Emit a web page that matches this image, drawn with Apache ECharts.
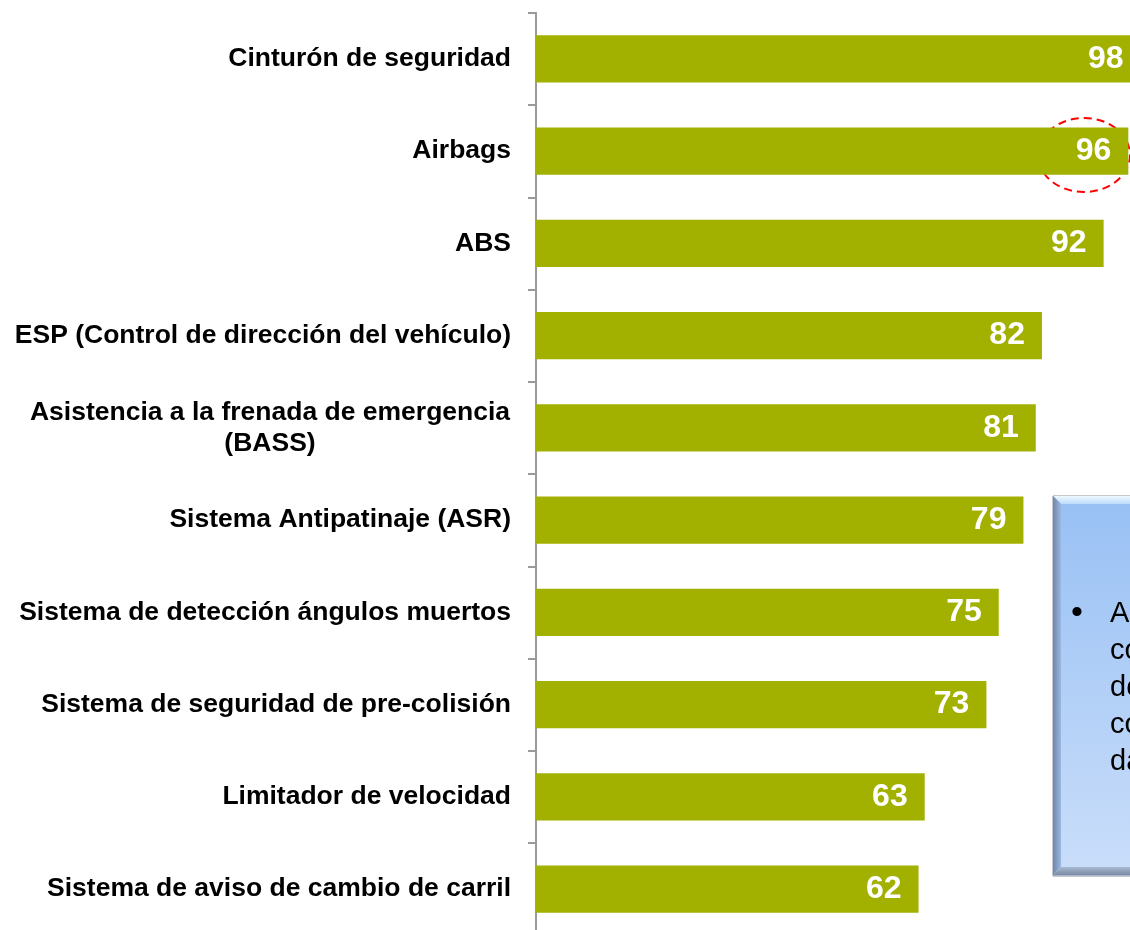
<!DOCTYPE html>
<html>
<head>
<meta charset="utf-8">
<script src="https://cdn.jsdelivr.net/npm/echarts@6/dist/echarts.min.js"></script>
<style>
  html, body { margin: 0; padding: 0; background: #fff; }
  #chart { width: 1130px; height: 930px; }
</style>
</head>
<body>
<div id="chart"></div>
<script>
// datos
var categorias = [
    'Cinturón de seguridad',
    'Airbags',
    'ABS',
    'ESP (Control de dirección del vehículo)',
    'Asistencia a la frenada de emergencia\n(BASS)',
    'Sistema Antipatinaje (ASR)',
    'Sistema de detección ángulos muertos',
    'Sistema de seguridad de pre-colisión',
    'Limitador de velocidad',
    'Sistema de aviso de cambio de carril'
];
var valores = [98, 96, 92, 82, 81, 79, 75, 73, 63, 62];
var textoCaja = ['A', 'co', 'de', 'co', 'da'];

var fuente = 'Arial';
var myChart = echarts.init(document.getElementById('chart'));

myChart.setOption({
    animation: false,
    grid: {
        left: 536,
        top: 12.75,
        width: 617,
        height: 922.5,
        containLabel: false,
        outerBoundsMode: 'none'
    },
    xAxis: {
        type: 'value',
        min: 0,
        max: 100,
        show: false
    },
    yAxis: {
        type: 'category',
        inverse: true,
        data: categorias,
        axisLine: {
            show: true,
            lineStyle: { color: '#9a9a9a', width: 2 }
        },
        axisTick: {
            show: true,
            length: 8,
            lineStyle: { color: '#9a9a9a', width: 2 }
        },
        axisLabel: {
            margin: 25,
            color: '#000',
            fontFamily: fuente,
            fontWeight: 'bold',
            fontSize: 26.5,
            formatter: function (v) {
                if (v.indexOf('\n') >= 0) {
                    return v.split('\n').map(function (s) { return '{c|' + s + '}'; }).join('\n');
                }
                return v;
            },
            rich: {
                c: {
                    width: 482,
                    align: 'center',
                    lineHeight: 31,
                    color: '#000',
                    fontFamily: fuente,
                    fontWeight: 'bold',
                    fontSize: 26.5
                }
            }
        }
    },
    series: [{
        type: 'bar',
        data: valores,
        barCategoryGap: '49%',
        itemStyle: { color: '#a2b000' },
        label: {
            show: true,
            position: 'insideRight',
            distance: 17,
            color: '#fff',
            fontFamily: fuente,
            fontWeight: 'bold',
            fontSize: 32
        }
    }],
    graphic: [
        // caja azul
        {
            type: 'rect',
            shape: { x: 1053, y: 496, width: 120, height: 380 },
            style: {
                fill: new echarts.graphic.LinearGradient(0, 0, 0, 1, [
                    { offset: 0, color: '#98c0f4' },
                    { offset: 1, color: '#cadefa' }
                ]),
                stroke: '#8a8f99',
                lineWidth: 1
            }
        },
        {
            type: 'polygon',
            shape: { points: [[1053, 496], [1140, 496], [1140, 504], [1061, 504]] },
            style: {
                fill: new echarts.graphic.LinearGradient(0, 0, 0, 1, [
                    { offset: 0, color: '#eef8ff' },
                    { offset: 1, color: '#bcdcfb' }
                ])
            }
        },
        {
            type: 'polygon',
            shape: { points: [[1053, 496], [1061, 504], [1061, 867], [1053, 875]] },
            style: {
                fill: new echarts.graphic.LinearGradient(0, 0, 1, 0, [
                    { offset: 0, color: '#6f86a8' },
                    { offset: 1, color: '#9ab8e2' }
                ])
            }
        },
        {
            type: 'polygon',
            shape: { points: [[1053, 875], [1061, 867], [1140, 867], [1140, 875]] },
            style: {
                fill: new echarts.graphic.LinearGradient(0, 0, 0, 1, [
                    { offset: 0, color: '#a9bad3' },
                    { offset: 1, color: '#7b8aa3' }
                ])
            }
        },
        {
            type: 'text',
            x: 1071,
            y: 614,
            style: {
                text: '•',
                font: '34px Arial',
                fill: '#000',
                verticalAlign: 'middle'
            }
        },
        {
            type: 'text',
            x: 1110,
            y: 596,
            style: {
                text: textoCaja.join('\n'),
                font: '29px Arial',
                lineHeight: 36.8,
                fill: '#000',
                verticalAlign: 'top'
            }
        },
        // elipse roja
        {
            type: 'ellipse',
            shape: { cx: 1084, cy: 155, rx: 46, ry: 37 },
            style: {
                fill: 'none',
                stroke: '#ff0000',
                lineWidth: 2,
                lineDash: [8, 5]
            }
        }
    ]
});
</script>
</body>
</html>
